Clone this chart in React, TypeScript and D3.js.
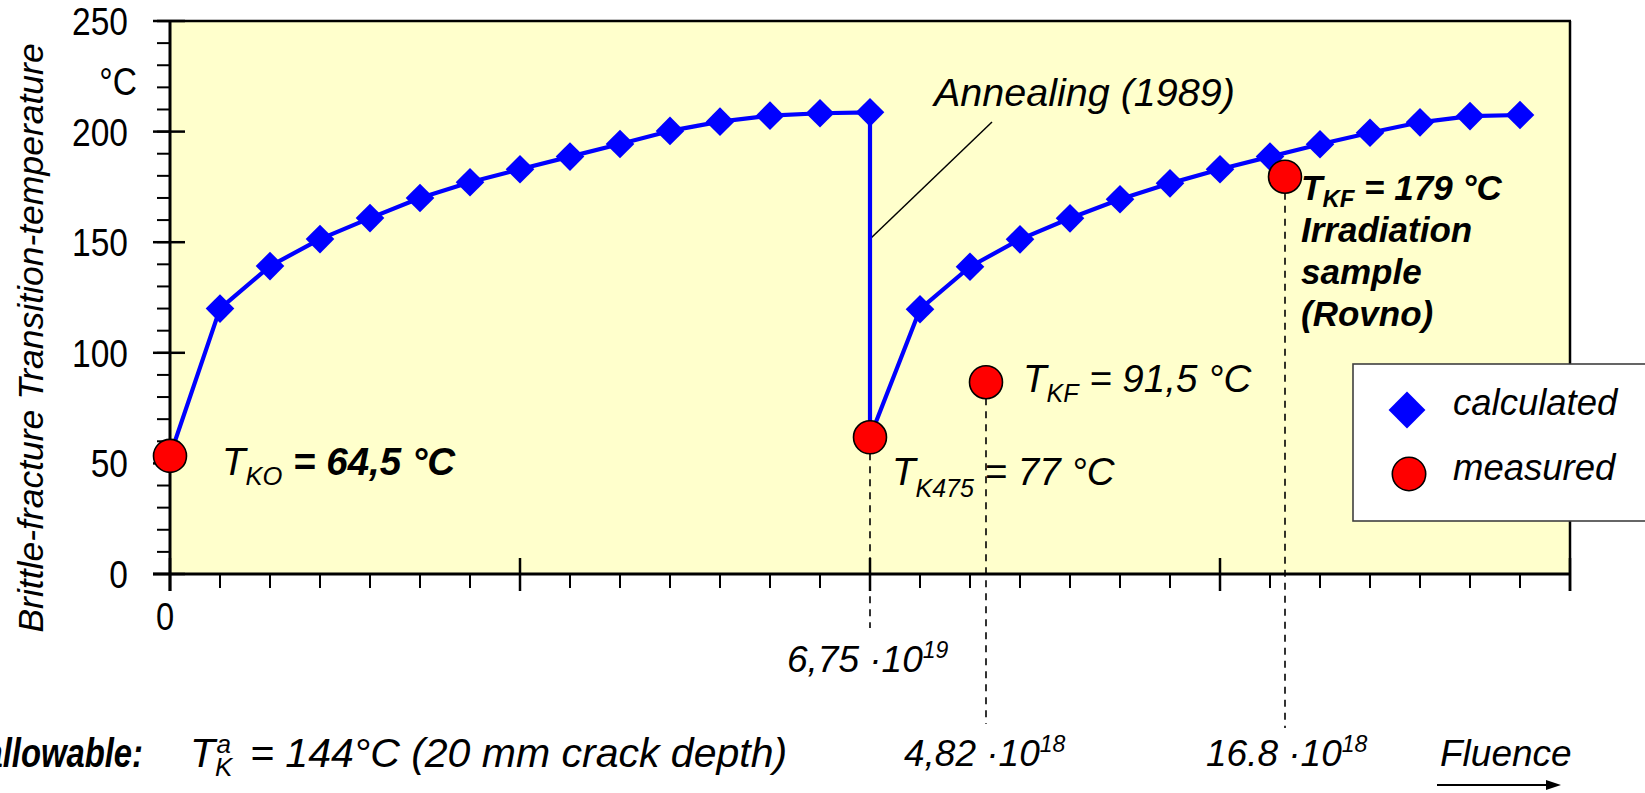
import React from "react";
import * as d3 from "d3";

// ---- data ----
const calcIdx1 = [1, 2, 3, 4, 5, 6, 7, 8, 9, 10, 11, 12, 13, 14];
const calcT1 = [120, 139.2, 151.4, 160.9, 170.0, 177.1, 183.0, 188.7, 194.4, 200.3, 204.5, 207.2, 208.3, 208.7];
const calcIdx2 = [15, 16, 17, 18, 19, 20, 21, 22, 23, 24, 25, 26, 27];
const calcT2 = [119.7, 138.9, 151.3, 160.8, 169.4, 176.6, 183.0, 188.7, 194.3, 199.5, 204.2, 207.0, 207.5];
const measIdx = [0, 14, 16.32, 22.3];
const measT = [53.4, 61.8, 86.7, 179.6];
const yMajorTicks = [0, 50, 100, 150, 200, 250];
const yTickLabels = ["0", "50", "100", "150", "200", "250"];
const xMajorTicks = [0, 7, 14, 21, 28];
const fluenceMantissa = ["6,75 ·10", "4,82 ·10", "16.8 ·10"];
const fluenceExp = ["19", "18", "18"];

const W = 1645;
const H = 793;
const FONT = "'Liberation Sans', Arial, Helvetica, sans-serif";

export default function App() {
  const x = d3.scaleLinear().domain([0, 28]).range([170, 1570]);
  const y = d3.scaleLinear().domain([0, 250]).range([574, 21]);

  const yMinor = d3.range(0, 251, 10);
  const xMinor = d3.range(0, 29, 1);

  const pts: [number, number][] = [
    [measIdx[0], measT[0]],
    ...calcIdx1.map((d, i) => [d, calcT1[i]] as [number, number]),
    [measIdx[1], measT[1]],
    ...calcIdx2.map((d, i) => [d, calcT2[i]] as [number, number]),
  ];
  const line = d3
    .line<[number, number]>()
    .x((d) => x(d[0]))
    .y((d) => y(d[1]));

  const diamondPlot = d3.symbol(d3.symbolSquare, 410)()!;
  const diamondLegend = d3.symbol(d3.symbolSquare, 680)()!;
  const calcPts = [
    ...calcIdx1.map((d, i) => [d, calcT1[i]]),
    ...calcIdx2.map((d, i) => [d, calcT2[i]]),
  ];

  const dashEnds = [null, 628, 724, 728];
  const labelX = [787, 904, 1206];
  const labelY = [672, 766, 766];

  return (
    <svg
      width={W}
      height={H}
      style={{ position: "absolute", left: 0, top: 0, display: "block", background: "#fff" }}
      fontFamily={FONT}
    >
      {/* plot background */}
      <rect x={x(0)} y={y(250)} width={x(28) - x(0)} height={y(0) - y(250)} fill="#FFFFCC" />

      {/* y minor ticks */}
      {yMinor.map((v) => (
        <line key={"ym" + v} x1={157} x2={170} y1={y(v)} y2={y(v)} stroke="#000" strokeWidth={2} />
      ))}
      {/* y major ticks */}
      {yMajorTicks.map((v) => (
        <line key={"yM" + v} x1={153} x2={185} y1={y(v)} y2={y(v)} stroke="#000" strokeWidth={2.5} />
      ))}
      {/* x minor ticks */}
      {xMinor.map((v) => (
        <line key={"xm" + v} x1={x(v)} x2={x(v)} y1={574} y2={588} stroke="#000" strokeWidth={2} />
      ))}
      {xMajorTicks.map((v) => (
        <line key={"xM" + v} x1={x(v)} x2={x(v)} y1={558} y2={591} stroke="#000" strokeWidth={2.5} />
      ))}

      {/* frame */}
      <line x1={157} x2={x(28) + 1} y1={y(250)} y2={y(250)} stroke="#000" strokeWidth={2.5} />
      <line x1={x(28)} x2={x(28)} y1={y(250)} y2={591} stroke="#000" strokeWidth={2.5} />
      <line x1={x(0)} x2={x(0)} y1={y(250)} y2={591} stroke="#000" strokeWidth={3} />
      <line x1={153} x2={x(28)} y1={y(0)} y2={y(0)} stroke="#000" strokeWidth={3} />

      {/* y tick labels (condensed) */}
      {yMajorTicks.map((v, i) => (
        <text
          key={"yl" + v}
          transform={`translate(128,${y(v)}) scale(0.86,1)`}
          textAnchor="end"
          dy="0.36em"
          fontSize={39}
        >
          {yTickLabels[i]}
        </text>
      ))}
      <text transform={`translate(137,81) scale(0.86,1)`} textAnchor="end" dy="0.36em" fontSize={39}>
        °C
      </text>
      <text transform={`translate(165,616) scale(0.86,1)`} textAnchor="middle" dy="0.36em" fontSize={38}>
        0
      </text>

      {/* y axis title */}
      <text
        transform={`translate(43,338) rotate(-90)`}
        textAnchor="middle"
        fontSize={35.5}
        fontStyle="italic"
      >
        Brittle-fracture Transition-temperature
      </text>

      {/* annealing leader line */}
      <line x1={x(14)} y1={239} x2={992} y2={122} stroke="#000" strokeWidth={1.5} />

      {/* calculated line */}
      <path d={line(pts)!} fill="none" stroke="#0000FF" strokeWidth={4.2} strokeLinejoin="round" />
      {calcPts.map((d, i) => (
        <path
          key={"d" + i}
          d={diamondPlot}
          transform={`translate(${x(d[0])},${y(d[1])}) rotate(45)`}
          fill="#0000FF"
        />
      ))}

      {/* dashed drop lines */}
      {measIdx.map((d, i) =>
        dashEnds[i] == null ? null : (
          <line
            key={"dl" + i}
            x1={x(d)}
            x2={x(d)}
            y1={y(measT[i]) + 16}
            y2={dashEnds[i] as number}
            stroke="#000"
            strokeWidth={1.6}
            strokeDasharray="7,6"
          />
        )
      )}

      {/* measured circles */}
      {measIdx.map((d, i) => (
        <circle key={"c" + i} cx={x(d)} cy={y(measT[i])} r={16.5} fill="#FF0000" stroke="#000" strokeWidth={1.6} />
      ))}

      {/* annotations */}
      <text x={934} y={106} fontSize={39.5} fontStyle="italic">
        Annealing (1989)
      </text>

      <text x={222} y={475} fontSize={38.5} fontStyle="italic">
        T
        <tspan dy={10} fontSize={25.5}>KO</tspan>
        <tspan dy={-10} fontWeight="bold"> = 64,5 °C</tspan>
      </text>

      <text x={892} y={485} fontSize={38.5} fontStyle="italic">
        T
        <tspan dy={12} fontSize={25}>K475</tspan>
        <tspan dy={-12}> = 77 °C</tspan>
      </text>

      <text x={1023} y={392} fontSize={38.5} fontStyle="italic">
        T
        <tspan dy={10} fontSize={25}>KF</tspan>
        <tspan dy={-10}> = 91,5 °C</tspan>
      </text>

      <g fontSize={35} fontStyle="italic" fontWeight="bold">
        <text x={1301} y={200}>
          T
          <tspan dy={7} fontSize={24}>KF</tspan>
          <tspan dy={-7}> = 179 °C</tspan>
        </text>
        <text x={1301} y={242}>Irradiation</text>
        <text x={1301} y={284}>sample</text>
        <text x={1301} y={326}>(Rovno)</text>
      </g>

      {/* fluence labels */}
      {fluenceMantissa.map((m, i) => (
        <text key={"fl" + i} x={labelX[i]} y={labelY[i]} fontSize={37} fontStyle="italic">
          {m}
          <tspan dy={-14} fontSize={23}>{fluenceExp[i]}</tspan>
        </text>
      ))}

      <text x={1440} y={766} fontSize={37} fontStyle="italic">
        Fluence
      </text>
      <line x1={1437} x2={1548} y1={785} y2={785} stroke="#000" strokeWidth={2} />
      <path d={d3.line()([[1546, 780], [1561, 785], [1546, 790]])! + "Z"} fill="#000" />

      {/* allowable */}
      <text transform="translate(143,767) scale(0.8,1)" textAnchor="end" fontSize={41} fontStyle="italic" fontWeight="bold">
        allowable:
      </text>
      <text x={190} y={767} fontSize={41} fontStyle="italic">
        T
        <tspan dy={9} fontSize={26}>K</tspan>
        <tspan dx={-16} dy={-23} fontSize={26}>a</tspan>
        <tspan x={250} dy={14}>= 144°C (20 mm crack depth)</tspan>
      </text>

      {/* legend */}
      <rect x={1353} y={364} width={320} height={157} fill="#fff" stroke="#404040" strokeWidth={1.6} />
      <path d={diamondLegend} transform="translate(1407,410) rotate(45)" fill="#0000FF" />
      <circle cx={1409} cy={474} r={16.7} fill="#FF0000" stroke="#000" strokeWidth={1.6} />
      <text x={1453} y={415} fontSize={36.5} fontStyle="italic">
        calculated
      </text>
      <text x={1453} y={480} fontSize={36.5} fontStyle="italic">
        measured
      </text>
    </svg>
  );
}
